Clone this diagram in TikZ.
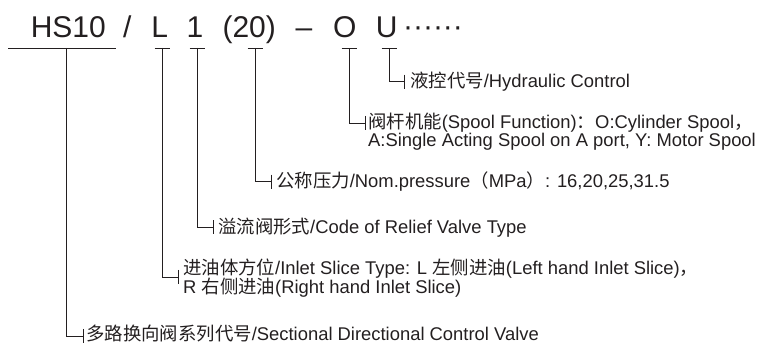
\documentclass[tikz,border=0pt]{standalone}
\usepackage{fontspec}
\setmainfont{Liberation Sans}
\newfontfamily\cjkfont{Noto Sans CJK SC}
\newcommand\zh[1]{{\cjkfont #1}}
\definecolor{ink}{RGB}{35,31,32}
\begin{document}
\begin{tikzpicture}[x=1pt,y=-1pt,
  tok/.style={inner sep=0pt, anchor=base, font=\fontsize{30}{30}\selectfont, text=ink},
  lab/.style={inner sep=0pt, anchor=base west, font=\fontsize{18.4}{18}\selectfont, text=ink},
  bar/.style={draw=ink, line width=0.9pt},
  lead/.style={draw=ink, line width=0.9pt}]
\useasboundingbox (0,0) rectangle (764,344);
% code tokens
\node[tok] (hs) at (68.3,37.3) {HS10};
\node[tok] (sl) at (127.2,37.3) {/};
\node[tok] (tL) at (159.7,37.3) {L};
\node[tok] (t1) at (195,37.3) {1};
\node[tok] (tp) at (249.2,37.3) {(20)};
\node[tok] (da) at (303.9,37.3) {–};
\node[tok] (tO) at (344.7,37.3) {O};
\node[tok] (tU) at (386.7,37.3) {U};
\node[tok] (dots) at (433,36.3) {······};
% underlines
\draw[bar] (8,48) -- (116,48);
\draw[bar] (154.5,48) -- (169.5,48);
\draw[bar] (189.5,48) -- (204.5,48);
\draw[bar] (247.5,48) -- (262.5,48);
\draw[bar] (341.5,48) -- (356.5,48);
\draw[bar] (381.5,48) -- (396.5,48);
\coordinate (bHS) at (66.5,48);
\coordinate (bL) at (162,48);
\coordinate (b1) at (197,48);
\coordinate (bP) at (255,48);
\coordinate (bO) at (349,48);
\coordinate (bU) at (389,48);
% labels
\node[lab] (lU) at (410,87.5) {\zh{液控代号}/Hydraulic Control};
\node[lab] (lO) at (368,128.5) {\zh{阀杆机能}(Spool Function)\zh{：}O:Cylinder Spool\zh{，}};
\node[lab] (lO2) at (368,146.5) {A:Single Acting Spool on A port, Y: Motor Spool};
\node[lab] (lP) at (276,188) {\zh{公称压力}/Nom.pressure\zh{（}MPa\zh{）}: 16,20,25,31.5};
\node[lab] (l1) at (218,234) {\zh{溢流阀形式}/Code of Relief Valve Type};
\node[lab] (lL) at (183,275) {\zh{进油体方位}/Inlet Slice Type: L \zh{左侧进油}(Left hand Inlet Slice)\zh{，}};
\node[lab] (lL2) at (183,294) {R \zh{右侧进油}(Right hand Inlet Slice)};
\node[lab] (lHS) at (86,341) {\zh{多路换向阀系列代号}/Sectional Directional Control Valve};
% tick points
\coordinate (kU) at (404.5,81.7);
\coordinate (kO) at (365,123);
\coordinate (kP) at (271,181.7);
\coordinate (k1) at (213,227.5);
\coordinate (kL) at (178,277);
\coordinate (kHS) at (83,336);
% leaders
\foreach \b/\k in {bU/kU,bO/kO,bP/kP,b1/k1,bL/kL,bHS/kHS}{
  \draw[lead] (\b) |- (\k);
  \draw[lead] ([yshift=7pt]\k) -- ([yshift=-7pt]\k);
}
\end{tikzpicture}
\end{document}
